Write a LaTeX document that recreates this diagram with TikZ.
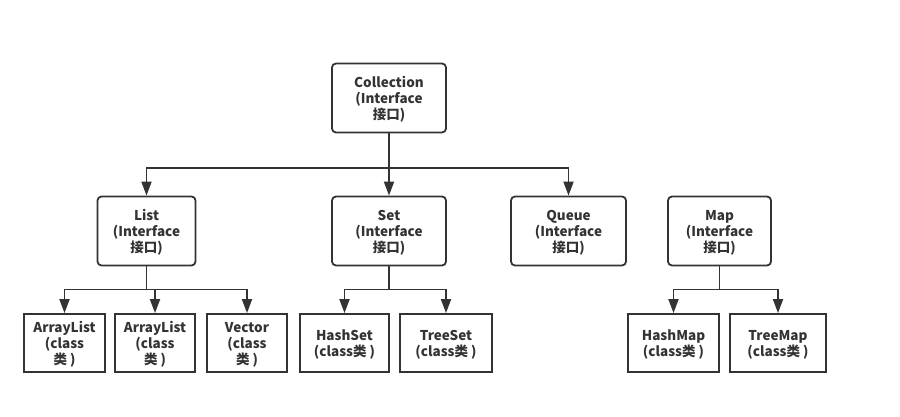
\documentclass[tikz,border=0pt]{standalone}
\usepackage{fontspec}
\setmainfont{Noto Sans CJK SC}
\usetikzlibrary{arrows.meta}
\definecolor{boxgray}{HTML}{333333}
\tikzset{>={Triangle[width=10pt,length=14pt]}}

\begin{document}
\begin{tikzpicture}[x=1pt, y=-1pt, line width=1.8pt, color=boxgray,
  iface/.style={draw, rounded corners=4pt, align=center, inner sep=0pt,
    font=\bfseries\fontsize{13.5}{16}\selectfont, minimum height=69pt,
    text depth=-3.5pt},
  cls/.style={draw, align=center, inner sep=0pt,
    font=\bfseries\fontsize{13.5}{16}\selectfont, minimum height=58pt,
    text depth=-3.5pt}]
\useasboundingbox (0,0) rectangle (900,417);
% interfaces
\node[iface, minimum width=114pt] (coll) at (389,98) {Collection\\(Interface\\接口)};
\node[iface, minimum width=98pt] (list) at (146.5,231) {List\\(Interface\\接口)};
\node[iface, minimum width=114pt] (set) at (389,231) {Set\\(Interface\\接口)};
\node[iface, minimum width=115pt] (queue) at (568.5,231) {Queue\\(Interface\\接口)};
\node[iface, minimum width=103pt] (map) at (719.5,231) {Map\\(Interface\\接口)};
% classes
\node[cls, minimum width=81pt] (al1) at (64.5,343) {ArrayList\\(class\\类 )};
\node[cls, minimum width=80pt] (al2) at (155,343) {ArrayList\\(class\\类 )};
\node[cls, minimum width=80pt] (vec) at (247,343) {Vector\\(class\\类 )};
\node[cls, minimum width=89pt] (hset) at (344.5,343) {HashSet\\(class类 )};
\node[cls, minimum width=92pt] (tset) at (446,343) {TreeSet\\(class类 )};
\node[cls, minimum width=91pt] (hmap) at (673.5,343) {HashMap\\(class类 )};
\node[cls, minimum width=96pt] (tmap) at (778,343) {TreeMap\\(class类 )};
% connectors
\draw[->] (coll.south) -- ++(0,35) -| (list.north);
\draw[->] (coll.south) -- ++(0,35) -| (set.north);
\draw[->] (coll.south) -- ++(0,35) -| (queue.north);
\draw[->] (list.south) -- ++(0,23) -| (al1.north);
\draw[->] (list.south) -- ++(0,23) -| (al2.north);
\draw[->] (list.south) -- ++(0,23) -| (vec.north);
\draw[->] (set.south) -- ++(0,23) -| (hset.north);
\draw[->] (set.south) -- ++(0,23) -| (tset.north);
\draw[->] (map.south) -- ++(0,23) -| (hmap.north);
\draw[->] (map.south) -- ++(0,23) -| (tmap.north);
\end{tikzpicture}
\end{document}
